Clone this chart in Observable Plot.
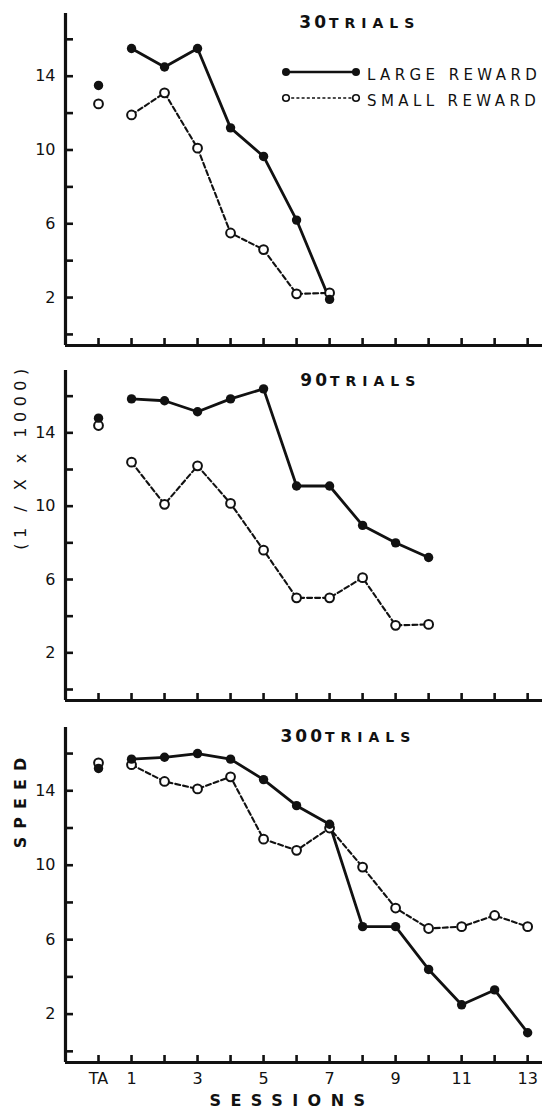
<!DOCTYPE html>
<html>
<head>
<meta charset="utf-8">
<script src="https://cdn.jsdelivr.net/npm/d3@7"></script>
<script src="https://cdn.jsdelivr.net/npm/@observablehq/plot@0.6"></script>
<style>
  body { margin: 0; background: #fff; }
  #chart { width: 554px; font-family: "DejaVu Sans", "Liberation Sans", sans-serif; color: #111; }
  .panel { position: relative; width: 554px; }
  .panel svg { display: block; overflow: visible; }
  .legend { position: absolute; left: 0; top: 0; pointer-events: none; }
  .legend text { font-family: "DejaVu Sans", sans-serif; font-size: 15px; letter-spacing: 4.4px; fill: #111; }
</style>
</head>
<body>
<div id="chart"></div>
<script>
// ---- data (index 0 = TA, then sessions 1..n) ----
const sessionNumbers = [0, 1, 2, 3, 4, 5, 6, 7, 8, 9, 10, 11, 12, 13];
const labeledSessions = [0, 1, 3, 5, 7, 9, 11, 13];
const sessionLabels = ["TA", "1", "3", "5", "7", "9", "11", "13"];
const yLabeledTicks = [2, 6, 10, 14];
const yAllTicks = [0, 2, 4, 6, 8, 10, 12, 14, 16];
const trialBlocks = ["30", "90", "300"];
const seriesNames = ["LARGE REWARD", "SMALL REWARD"];

const large30 = [13.5, 15.5, 14.5, 15.5, 11.2, 9.65, 6.2, 1.9];
const small30 = [12.5, 11.9, 13.1, 10.1, 5.5, 4.6, 2.2, 2.25];

const large90 = [14.8, 15.85, 15.75, 15.15, 15.85, 16.4, 11.1, 11.1, 8.95, 8.0, 7.2];
const small90 = [14.4, 12.4, 10.1, 12.2, 10.15, 7.6, 5.0, 5.0, 6.1, 3.5, 3.55];

const large300 = [15.2, 15.7, 15.8, 16.0, 15.7, 14.6, 13.2, 12.2, 6.7, 6.7, 4.4, 2.5, 3.3, 1.0];
const small300 = [15.5, 15.4, 14.5, 14.1, 14.75, 11.4, 10.8, 12.0, 9.9, 7.7, 6.6, 6.7, 7.3, 6.7];

const yLabelTop = "(1 / X x 1000)";
const yLabelBottom = "SPEED";
const xLabel = "SESSIONS";
const trialsWord = "TRIALS";

// ---- layout ----
const ink = "#111";
const xDomain = [-1.0, 13.45];
const yDomain = [-0.6, 17.4];
const spacing = new Map([
  [trialsWord, 6], [xLabel, 9.5], [yLabelBottom, 8], [yLabelTop, 5.5],
  ["30", 3], ["90", 3], ["300", 3]
]);

const panels = [
  {trials: trialBlocks[0], large: large30, small: small30, height: 360, marginTop: 13, marginBottom: 15, titleDx: 25, titleDy: 14, bottom: false},
  {trials: trialBlocks[1], large: large90, small: small90, height: 350, marginTop: 10, marginBottom: 10, titleDx: 26, titleDy: 15, bottom: false, sideLabel: yLabelTop, sideDy: -79, sideWeight: "normal"},
  {trials: trialBlocks[2], large: large300, small: small300, height: 405, marginTop: 17, marginBottom: 53, titleDx: 21, titleDy: 14, bottom: true, sideLabel: yLabelBottom, sideDy: -96, sideWeight: "bold"}
];

const root = document.getElementById("chart");

panels.forEach((p, pi) => {
  const L = p.large.map((v, i) => ({session: sessionNumbers[i], speed: v}));
  const S = p.small.map((v, i) => ({session: sessionNumbers[i], speed: v}));
  const marks = [
    Plot.ruleX([xDomain[0]], {stroke: ink, strokeWidth: 3.2}),
    Plot.ruleY([yDomain[0]], {stroke: ink, strokeWidth: 3.2}),
    Plot.axisY(yAllTicks, {tickSize: -8, strokeWidth: 2.6, stroke: ink, fill: "none", label: null}),
    Plot.axisY(yLabeledTicks, {tickSize: 0, tickPadding: 10, fontSize: 16, fill: ink, label: null}),
    Plot.axisX(sessionNumbers, {tickSize: -7, strokeWidth: 2.6, stroke: ink, fill: "none", label: null}),
    Plot.line(S.filter(d => d.session > 0), {x: "session", y: "speed", stroke: ink, strokeWidth: 2.1, strokeDasharray: "5,3"}),
    Plot.line(L.filter(d => d.session > 0), {x: "session", y: "speed", stroke: ink, strokeWidth: 2.8}),
    Plot.dot(S, {x: "session", y: "speed", r: 4.4, fill: "white", stroke: ink, strokeWidth: 2}),
    Plot.dot(L, {x: "session", y: "speed", r: 4.7, fill: ink}),
    Plot.text([p.trials], {frameAnchor: "top", textAnchor: "end", lineAnchor: "bottom", dx: p.titleDx, dy: p.titleDy, fontSize: 17, fontWeight: "bold", fill: ink}),
    Plot.text([trialsWord], {frameAnchor: "top", textAnchor: "start", lineAnchor: "bottom", dx: p.titleDx, dy: p.titleDy, fontSize: 14, fontWeight: "bold", fill: ink})
  ];
  if (p.bottom) {
    marks.push(Plot.axisX(labeledSessions, {tickSize: 0, tickPadding: 10, fontSize: 16, fill: ink, label: null,
      tickFormat: d => sessionLabels[labeledSessions.indexOf(d)]}));
    marks.push(Plot.text([xLabel], {frameAnchor: "bottom", textAnchor: "middle", lineAnchor: "bottom", dx: -12, dy: 43, fontSize: 16, fontWeight: "bold", fill: ink}));
  }
  if (p.sideLabel) {
    marks.push(Plot.text([p.sideLabel], {frameAnchor: "left", rotate: -90, textAnchor: "middle", lineAnchor: "middle", dx: -45, dy: p.sideDy, fontSize: 16, fontWeight: p.sideWeight, fill: ink}));
  }
  const chart = Plot.plot({
    width: 554,
    height: p.height,
    marginLeft: 65,
    marginRight: 12,
    marginTop: p.marginTop,
    marginBottom: p.marginBottom,
    style: {fontFamily: "'DejaVu Sans', sans-serif", background: "white", color: ink, overflow: "visible"},
    x: {domain: xDomain},
    y: {domain: yDomain},
    marks
  });
  // letter spacing for the widely-set lettering
  d3.select(chart).selectAll("text").each(function () {
    const t = this.textContent;
    if (spacing.has(t)) d3.select(this).style("letter-spacing", spacing.get(t) + "px");
  });
  const div = document.createElement("div");
  div.className = "panel";
  div.appendChild(chart);
  root.appendChild(div);

  if (pi === 0) {
    const svg = d3.select(div).append("svg").attr("class", "legend").attr("width", 554).attr("height", 120);
    const rows = [
      {name: seriesNames[0], y: 72, dash: null, sw: 2.6, filled: true},
      {name: seriesNames[1], y: 98, dash: "3,2.2", sw: 1.7, filled: false}
    ];
    rows.forEach(r => {
      svg.append("line").attr("x1", 286).attr("x2", 356).attr("y1", r.y).attr("y2", r.y)
        .attr("stroke", ink).attr("stroke-width", r.sw).attr("stroke-dasharray", r.dash);
      [286, 356].forEach(cx => {
        svg.append("circle").attr("cx", cx).attr("cy", r.y).attr("r", r.filled ? 4 : 3.3)
          .attr("fill", r.filled ? ink : "white").attr("stroke", ink).attr("stroke-width", r.filled ? 0 : 1.6);
      });
      svg.append("text").attr("x", 367).attr("y", r.y + 7.5).text(r.name);
    });
  }
});
</script>
</body>
</html>
